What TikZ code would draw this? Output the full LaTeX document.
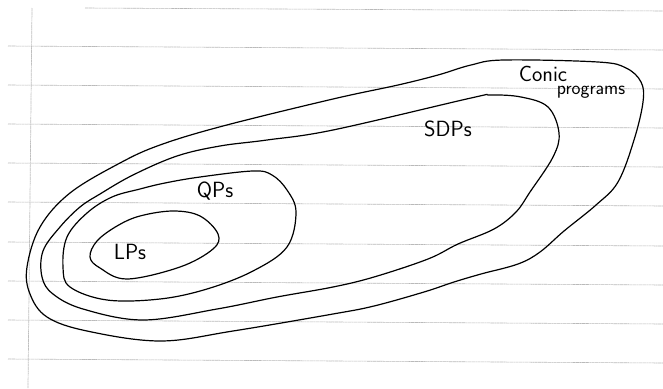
\documentclass[tikz,border=0pt]{standalone}
\usetikzlibrary{calc}
\begin{document}
\begin{tikzpicture}[x=1pt,y=-1pt,
  rule/.style={draw=gray!55,line width=0.6pt,dash pattern=on 1.5pt off 0.4pt},
  margin/.style={draw=gray!50,line width=0.7pt,dash pattern=on 1.5pt off 0.4pt},
  setcurve/.style={draw=black,line width=1.2pt,line join=round},
  lbl/.style={font=\sffamily\fontsize{22}{24}\selectfont,inner sep=0pt}]
\useasboundingbox (0,0) rectangle (663,388);
% ruled paper
\draw[rule] (85,8) -- (663,11);
\foreach \y in {46,85,124,163,202,242,281,320,359}
  \draw[rule] (8,\y) -- (663,\y+4);
\draw[margin] (32,8) -- (28,388);
% nested sets
\draw[setcurve] plot[smooth cycle,tension=0.6] coordinates {
 (70,193) (120,163) (160,145) (223,126) (333,99) (398,85) (438,75) (471,65)
 (504,60) (598,62) (626,68) (641,82) (643,102) (634,140) (618,182)
 (596,205) (564,231) (540,252) (518,264) (481,274) (454,282) (424,292)
 (374,306) (333,314) (233,331) (160,341)
 (87,331) (47,317) (30,294) (27,267) (40,227)};
\draw[setcurve] plot[smooth cycle,tension=0.6] coordinates {
 (100,194) (133,175) (177,156) (220,146) (267,140) (333,130) (471,98)
 (490,95) (521,97) (548,107) (559,133) (553,157) (530,192) (516,212)
 (494,229) (458,244) (428,259) (374,277) (333,287) (277,297) (217,309)
 (143,320) (83,309) (53,294) (42,277) (43,251) (60,227) (80,207)};
\draw[setcurve] plot[smooth cycle,tension=0.6] coordinates {
 (140,189) (165,183) (200,177) (253,171) (272,175) (287,190) (296,212)
 (287,247) (253,271) (207,289) (160,299) (107,300) (70,287) (63,267)
 (67,237) (87,213) (112,197)};
\draw[setcurve] plot[smooth cycle,tension=0.6] coordinates {
 (140,216) (173,211) (200,216) (218,234) (213,249) (180,267) (127,279)
 (100,268) (90,257) (97,241) (117,226)};
% labels
\node[lbl] (lps) at (130,252) {LPs};
\node[lbl] (qps) at (215,191) {QPs};
\node[lbl] (sdps) at (448,129) {SDPs};
\node[lbl] (conic) at (543,74) {Conic};
\node[lbl,font=\sffamily\fontsize{19}{21}\selectfont] (prog) at (591,92) {programs};
\end{tikzpicture}
\end{document}
